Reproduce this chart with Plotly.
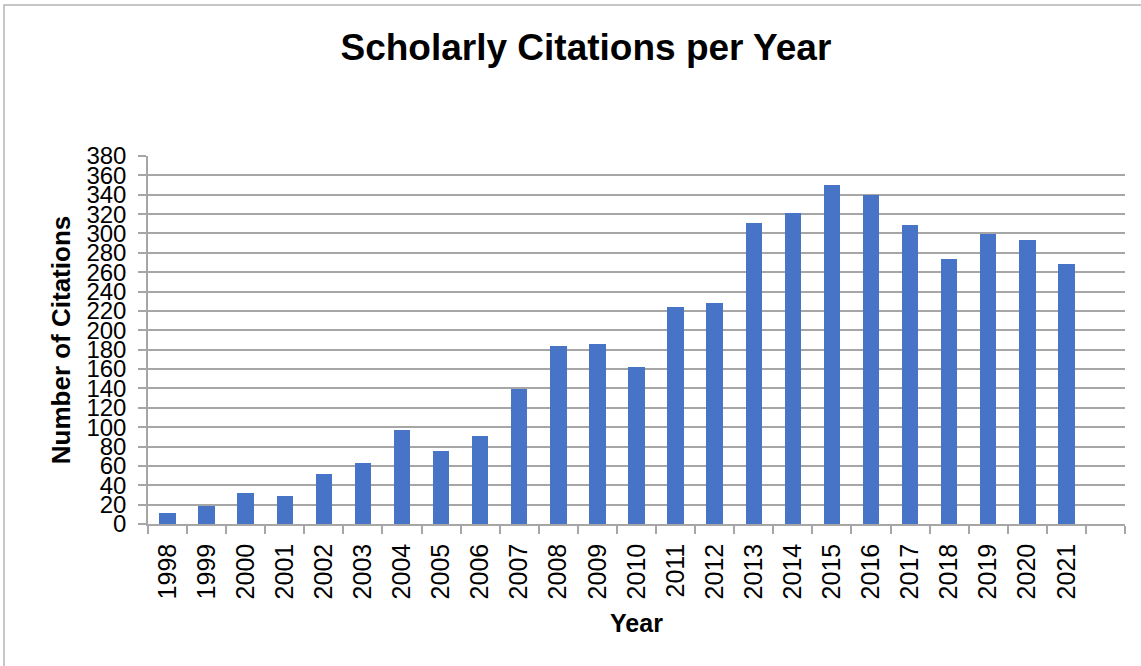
import plotly.graph_objects as go

years = ["1998", "1999", "2000", "2001", "2002", "2003", "2004", "2005",
         "2006", "2007", "2008", "2009", "2010", "2011", "2012", "2013",
         "2014", "2015", "2016", "2017", "2018", "2019", "2020", "2021"]
citations = [11, 19, 32, 29, 52, 63, 97, 75, 91, 139, 184, 186, 162, 224,
             228, 311, 321, 350, 340, 309, 274, 299, 293, 268]
y_ticks = list(range(0, 381, 20))

idx = list(range(len(years)))
FONT = "Liberation Sans, Arial, sans-serif"
GRID = "#a6a6a6"

fig = go.Figure(go.Bar(
    x=idx, y=citations,
    marker=dict(color="#4774C6", line=dict(width=0)),
    width=0.42,
))

W, H = 1141, 666
L, R, T, B = 148, 16, 156, 142
pw, ph = W - L - R, H - T - B

fig.update_layout(
    width=W, height=H,
    margin=dict(l=L, r=R, t=T, b=B),
    paper_bgcolor="white", plot_bgcolor="white",
    font=dict(family=FONT, color="black"),
    title=dict(text="<b>Scholarly Citations per Year</b>", x=0.5135, xanchor="center",
               y=1 - 47 / H, yanchor="middle", font=dict(size=37, family=FONT)),
    showlegend=False,
    bargap=0,
    shapes=[dict(type="rect", xref="paper", yref="paper",
                 x0=(4 - L) / pw, x1=(W + 20 - L) / pw,
                 y0=(H - B - (H + 20)) / ph, y1=(H - B - 5) / ph,
                 line=dict(color="#b4b4b4", width=1.5), fillcolor="rgba(0,0,0,0)",
                 layer="below")],
)

fig.update_xaxes(
    range=[-0.5, len(years) + 0.5],
    tickmode="array", tickvals=idx, ticktext=years,
    tickangle=-90, tickfont=dict(size=25, family=FONT),
    ticks="", ticklabelstandoff=8,
    minor=dict(tickmode="linear", tick0=-0.5, dtick=1, ticks="outside",
               ticklen=8, tickcolor=GRID, tickwidth=1.5, showgrid=False),
    showline=True, linecolor=GRID, linewidth=1.5,
    showgrid=False, zeroline=False,
    title=dict(text="<b>Year</b>", font=dict(size=25, family=FONT), standoff=16),
)

fig.update_yaxes(
    range=[0, 380],
    tickmode="array", tickvals=y_ticks,
    tickfont=dict(size=24, family=FONT),
    ticks="outside", ticklen=8, tickcolor=GRID, tickwidth=1.5,
    ticklabelstandoff=7,
    showline=True, linecolor=GRID, linewidth=1.5,
    showgrid=True, gridcolor=GRID, gridwidth=1.5,
    zeroline=False,
    title=dict(text="<b>Number of Citations</b>", font=dict(size=26, family=FONT), standoff=8),
)

fig.write_html("out.html", config={"displayModeBar": False},
               post_script="document.body.style.margin='0';document.body.style.overflow='hidden';")
